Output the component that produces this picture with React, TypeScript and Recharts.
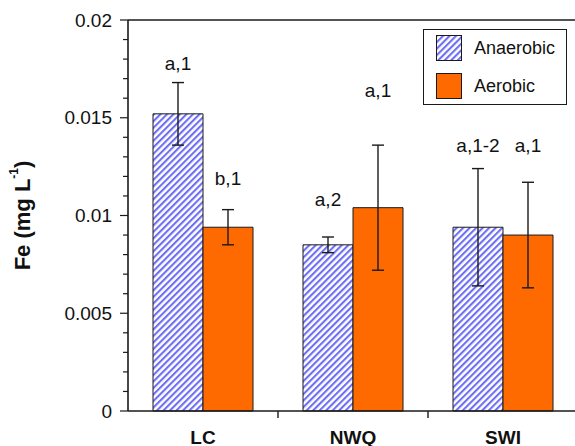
import React from "react";
import { BarChart, Bar, XAxis, YAxis, ErrorBar, LabelList, Legend, ReferenceLine } from "recharts";

const SITES = ["LC", "NWQ", "SWI"];
const SERIES_NAMES = ["Anaerobic", "Aerobic"];
const ANAEROBIC = [0.0152, 0.0085, 0.0094];
const ANAEROBIC_ERR = [0.0016, 0.0004, 0.003];
const AEROBIC = [0.0094, 0.0104, 0.009];
const AEROBIC_ERR = [0.0009, 0.0032, 0.0027];
const ANAEROBIC_LETTERS = ["a,1", "a,2", "a,1-2"];
const AEROBIC_LETTERS = ["b,1", "a,1", "a,1"];
// level (mg/L) where each letter sits
const ANAEROBIC_LETTER_AT = [0.0178, 0.0108, 0.0136];
const AEROBIC_LETTER_AT = [0.0119, 0.0164, 0.0136];
const Y_TICKS = [
  0, 0.001, 0.002, 0.003, 0.004, 0.005, 0.006, 0.007, 0.008, 0.009, 0.01,
  0.011, 0.012, 0.013, 0.014, 0.015, 0.016, 0.017, 0.018, 0.019, 0.02,
];
const Y_LABELS: Record<string, string> = { "0": "0", "5": "0.005", "10": "0.01", "15": "0.015", "20": "0.02" };

const FONT = "'Liberation Sans', Arial, Helvetica, sans-serif";
const ORANGE = "#ff6a00";
const EDGE = "#1a1a1a";

const data = SITES.map((site, i) => ({
  site,
  anaerobic: ANAEROBIC[i],
  anaerobicErr: ANAEROBIC_ERR[i],
  aerobic: AEROBIC[i],
  aerobicErr: AEROBIC_ERR[i],
}));

const YTick = ({ x, y, payload }: any) => {
  const key = String(Math.round(payload.value * 1000));
  const label = Y_LABELS[key];
  const major = label !== undefined;
  return (
    <g>
      <line x1={x - (major ? 8 : 5)} x2={x} y1={y} y2={y} stroke={EDGE} strokeWidth={1.2} />
      {major && (
        <text x={x - 16} y={y} textAnchor="end" dominantBaseline="central" fontSize={19} fill="#111" fontFamily={FONT}>
          {label}
        </text>
      )}
    </g>
  );
};

const XTick = ({ x, y, payload, index }: any) => {
  const half = payload.offset || 75;
  return (
    <g>
      {index < SITES.length - 1 && (
        <line x1={x + half} x2={x + half} y1={y} y2={y + 7} stroke={EDGE} strokeWidth={1.4} />
      )}
      <text x={x} y={y + 26} textAnchor="middle" dominantBaseline="central" fontSize={19} fontWeight="bold" fill="#111" fontFamily={FONT}>
        {payload.value}
      </text>
    </g>
  );
};

const YTitle = ({ viewBox }: any) => {
  const cy = viewBox ? viewBox.y + viewBox.height / 2 : 215;
  const cx = 22;
  return (
    <text
      x={cx}
      y={cy}
      transform={`rotate(-90, ${cx}, ${cy})`}
      textAnchor="middle"
      dominantBaseline="central"
      fontSize={22}
      fontWeight="bold"
      fill="#111"
      fontFamily={FONT}
    >
      Fe (mg L
      <tspan fontSize={12} dy={-8}>-1</tspan>
      <tspan dy={8}>)</tspan>
    </text>
  );
};

const letterLabel = (letters: string[], at: number[], values: number[]) => (props: any) => {
  const { x, y, width, height, index } = props;
  const perUnit = height / values[index];
  const ly = y + height - at[index] * perUnit;
  return (
    <text x={x + width / 2} y={ly} textAnchor="middle" dominantBaseline="central" fontSize={19} fill="#111" fontFamily={FONT}>
      {letters[index]}
    </text>
  );
};

const LegendBox = ({ payload }: any) => {
  const items = [...(payload || [])].sort(
    (a: any, b: any) => SERIES_NAMES.indexOf(a.value) - SERIES_NAMES.indexOf(b.value)
  );
  return (
    <div
      style={{
        width: 144,
        height: 76,
        boxSizing: "border-box",
        border: `1.5px solid ${EDGE}`,
        background: "#fff",
        position: "relative",
        fontFamily: FONT,
        fontSize: 18,
        color: "#111",
      }}
    >
      {items.map((entry: any, i: number) => (
        <div key={entry.value} style={{ position: "absolute", left: 12, top: 5 + i * 38, height: 26, display: "flex", alignItems: "center" }}>
          <svg width={26} height={26} style={{ display: "block" }}>
            <rect x={0.5} y={0.5} width={25} height={25} fill={entry.color} stroke={EDGE} strokeWidth={1} />
          </svg>
          <span style={{ marginLeft: 12 }}>{entry.value}</span>
        </div>
      ))}
    </div>
  );
};

export default function App() {
  return (
    <div style={{ position: "absolute", left: 0, top: 0, width: 575, height: 446, overflow: "hidden", background: "#fff" }}>
      <BarChart
        width={600}
        height={446}
        data={data}
        margin={{ top: 20, right: 22, bottom: 0, left: 0 }}
        barSize={50}
        barGap={0}
        style={{ fontFamily: FONT }}
      >
        <defs>
          <pattern id="hatch" patternUnits="userSpaceOnUse" width={4.6} height={4.6} patternTransform="rotate(45)">
            <rect width={4.6} height={4.6} fill="#ffffff" />
            <rect width={2.1} height={4.6} fill="#6e6ef2" />
          </pattern>
        </defs>
        <XAxis
          dataKey="site"
          height={35}
          axisLine={{ stroke: EDGE, strokeWidth: 1.6 }}
          tickLine={false}
          tickSize={0}
          tickMargin={0}
          tick={<XTick />}
          interval={0}
        />
        <YAxis
          width={128}
          domain={[0, 0.02]}
          ticks={Y_TICKS}
          interval={0}
          allowDecimals
          axisLine={{ stroke: EDGE, strokeWidth: 1.6 }}
          tickLine={false}
          tickSize={0}
          tickMargin={0}
          tick={<YTick />}
          label={{ content: <YTitle /> }}
        />
        <ReferenceLine y={0.02} stroke={EDGE} strokeWidth={1.6} />
        <Legend
          layout="horizontal"
          verticalAlign="middle"
          align="center"
          wrapperStyle={{ left: 423, top: 29, width: 144, height: 76 }}
          content={<LegendBox />}
        />
        <Bar dataKey="anaerobic" name="Anaerobic" fill="url(#hatch)" stroke={EDGE} strokeWidth={1} isAnimationActive={false}>
          <ErrorBar dataKey="anaerobicErr" width={6} stroke="#1a1a1a" strokeWidth={1.4} direction="y" />
          <LabelList dataKey="anaerobic" content={letterLabel(ANAEROBIC_LETTERS, ANAEROBIC_LETTER_AT, ANAEROBIC)} />
        </Bar>
        <Bar dataKey="aerobic" name="Aerobic" fill={ORANGE} stroke={EDGE} strokeWidth={1} isAnimationActive={false}>
          <ErrorBar dataKey="aerobicErr" width={6} stroke="#1a1a1a" strokeWidth={1.4} direction="y" />
          <LabelList dataKey="aerobic" content={letterLabel(AEROBIC_LETTERS, AEROBIC_LETTER_AT, AEROBIC)} />
        </Bar>
      </BarChart>
    </div>
  );
}
